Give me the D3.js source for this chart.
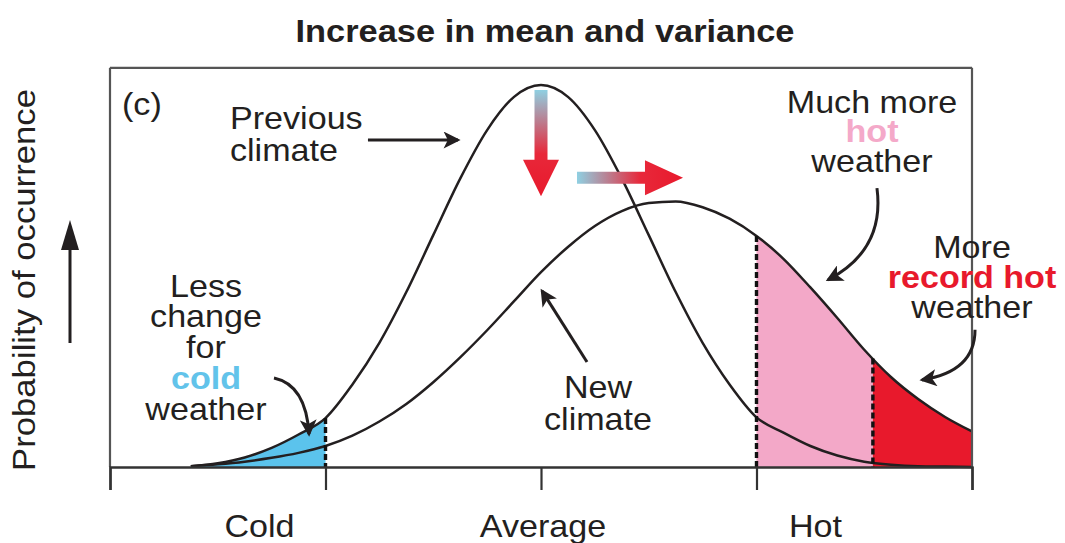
<!DOCTYPE html>
<html>
<head>
<meta charset="utf-8">
<script src="https://cdn.jsdelivr.net/npm/d3@7"></script>
<style>
  html, body { margin: 0; padding: 0; background: #ffffff; }
  svg { display: block; }
  text { font-family: "Liberation Sans", Arial, Helvetica, sans-serif; }
</style>
</head>
<body>
<script>
// ---------------- DATA ----------------
// temperature axis in standardized units (Cold = -2, Average = 0, Hot = 2)
const climateX = [-3.25, -3, -2.75, -2.5, -2.25, -2, -1.75, -1.5, -1.25, -1, -0.75, -0.5, -0.25,
                  0, 0.25, 0.5, 0.75, 1, 1.25, 1.5, 1.75, 2, 2.25, 2.5, 2.75, 3, 3.25, 3.5, 3.75, 4];
// probability of occurrence (relative to previous peak)
const previousClimate = [0.002, 0.01, 0.025, 0.05, 0.085, 0.128, 0.216, 0.325, 0.458, 0.607, 0.755, 0.882, 0.969,
                         1.0, 0.969, 0.882, 0.755, 0.607, 0.458, 0.325, 0.216, 0.13, 0.09, 0.055, 0.03, 0.014, 0.006, 0.002, 0.001, 0.0];
const newClimate = [0.002, 0.007, 0.014, 0.024, 0.037, 0.055, 0.082, 0.119, 0.165, 0.222, 0.287, 0.358, 0.434,
                    0.51, 0.576, 0.631, 0.67, 0.691, 0.695, 0.68, 0.65, 0.605, 0.545, 0.47, 0.39, 0.307, 0.235, 0.178, 0.131, 0.093];
const tickValues = [-4, -2, 0, 2, 4];
const tickLabelValues = [-2, 0, 2];
const tickLabels = ["Cold", "Average", "Hot"];
const coldThreshold = -2;
const hotThreshold = 2;
const recordThreshold = 3.08;
const titleText = "Increase in mean and variance";
const yAxisTitle = "Probability of occurrence";

// ---------------- LAYOUT ----------------
const W = 1065, H = 543;
const x = d3.scaleLinear().domain([-4, 4]).range([110, 972]);
const y = d3.scaleLinear().domain([0, 1]).range([467, 85]);
const yTop = 1.045;

const ink = "#231f20";
const blueFill = "#5bc3ec";
const pinkFill = "#f3a8c8";
const redFill = "#e8192c";
const coldText = "#62c3ea";
const hotText = "#f4a9c9";

const svg = d3.select("body").append("svg").attr("width", W).attr("height", H);
const defs = svg.append("defs");

const prevPts = climateX.map((u, i) => [u, previousClimate[i]]);
const newPts = climateX.map((u, i) => [u, newClimate[i]]);

function valueAt(pts, t) {
  for (let i = 0; i < pts.length - 1; i++) {
    if (t >= pts[i][0] && t <= pts[i + 1][0]) {
      const f = (t - pts[i][0]) / (pts[i + 1][0] - pts[i][0]);
      return pts[i][1] + f * (pts[i + 1][1] - pts[i][1]);
    }
  }
  return 0;
}

const area = d3.area().x(d => x(d[0])).y0(y(0)).y1(d => y(d[1])).curve(d3.curveMonotoneX);
const line = d3.line().x(d => x(d[0])).y(d => y(d[1])).curve(d3.curveMonotoneX);

// clip paths for shaded tails
function clipRect(id, u0, u1) {
  defs.append("clipPath").attr("id", id).append("rect")
    .attr("x", x(u0)).attr("y", 0).attr("width", x(u1) - x(u0)).attr("height", H);
}
clipRect("clipCold", -4, coldThreshold);
clipRect("clipHot", hotThreshold, recordThreshold);
clipRect("clipRecord", recordThreshold, 4);

// ---------------- FILLS ----------------
svg.append("path").datum(prevPts).attr("d", area).attr("fill", blueFill).attr("clip-path", "url(#clipCold)");
svg.append("path").datum(newPts).attr("d", area).attr("fill", pinkFill).attr("clip-path", "url(#clipHot)");
svg.append("path").datum(newPts).attr("d", area).attr("fill", redFill).attr("clip-path", "url(#clipRecord)");

// ---------------- CURVES ----------------
svg.append("path").datum(prevPts).attr("d", line).attr("fill", "none").attr("stroke", ink).attr("stroke-width", 2.5);
svg.append("path").datum(newPts).attr("d", line).attr("fill", "none").attr("stroke", ink).attr("stroke-width", 2.5);

// dashed threshold lines
[[prevPts, coldThreshold], [newPts, hotThreshold], [newPts, recordThreshold]].forEach(([pts, t]) => {
  svg.append("line")
    .attr("x1", x(t)).attr("x2", x(t))
    .attr("y1", y(valueAt(pts, t))).attr("y2", y(0))
    .attr("stroke", "#111").attr("stroke-width", 3.4).attr("stroke-dasharray", "6,3");
});

// ---------------- FRAME & AXIS ----------------
const frame = "#555555";
svg.append("line").attr("x1", x(-4)).attr("x2", x(4)).attr("y1", y(yTop)).attr("y2", y(yTop))
  .attr("stroke", frame).attr("stroke-width", 2.2);
svg.append("line").attr("x1", x(-4)).attr("x2", x(-4)).attr("y1", y(yTop)).attr("y2", y(0))
  .attr("stroke", frame).attr("stroke-width", 2.2);
svg.append("line").attr("x1", x(4)).attr("x2", x(4)).attr("y1", y(yTop)).attr("y2", y(0))
  .attr("stroke", frame).attr("stroke-width", 2.2);

const axisG = svg.append("g").attr("transform", `translate(0,${y(0)})`)
  .call(d3.axisBottom(x).tickValues(tickValues).tickSize(23).tickFormat(""));
axisG.select(".domain").attr("stroke", "#333").attr("stroke-width", 2.4);
axisG.selectAll(".tick line").attr("stroke", "#333").attr("stroke-width", 2.2);

const tickLabelShift = [-66, 2, 59];
tickLabels.forEach((lab, i) => {
  svg.append("text")
    .attr("transform", `translate(${x(tickLabelValues[i]) + tickLabelShift[i]},537) scale(1.1,1)`)
    .attr("text-anchor", "middle").attr("font-size", 31).attr("fill", ink).text(lab);
});

// ---------------- TEXT HELPERS ----------------
function label(px, py, str, opts = {}) {
  const t = svg.append("text")
    .attr("transform", `translate(${px},${py}) rotate(${opts.rotate || 0}) scale(${opts.sx || 1.1},1)`)
    .attr("text-anchor", opts.anchor || "middle")
    .attr("font-size", opts.size || 31)
    .attr("font-weight", opts.weight || "normal")
    .attr("fill", opts.fill || ink)
    .text(str);
  return t;
}

// title
label(545, 42, titleText, { weight: "bold", size: 31, sx: 1.11 });
// y axis title
label(35, 280, yAxisTitle, { rotate: -90, size: 31, sx: 1.12 });
// panel letter
label(122, 115, "(c)", { anchor: "start" });

// annotations
label(230, 129, "Previous", { anchor: "start" });
label(230, 161, "climate", { anchor: "start" });

label(872, 113, "Much more");
label(872, 142, "hot", { weight: "bold", fill: hotText });
label(872, 172, "weather");

label(972, 258, "More");
label(972, 288, "record hot", { weight: "bold", fill: redFill });
label(972, 318, "weather");

label(206, 297, "Less");
label(206, 327, "change");
label(206, 358, "for");
label(206, 389, "cold", { weight: "bold", fill: coldText });
label(206, 420, "weather");

label(598, 398, "New");
label(598, 430, "climate");

// ---------------- ARROWS ----------------
defs.append("marker").attr("id", "head")
  .attr("viewBox", "0 0 10 10").attr("refX", 8.5).attr("refY", 5)
  .attr("markerWidth", 21).attr("markerHeight", 17).attr("markerUnits", "userSpaceOnUse")
  .attr("orient", "auto")
  .append("path").attr("d", "M0,0 L10,5 L0,10 L2.5,5 Z").attr("fill", ink);

const P = (u, v) => [x(u), y(v)];
function arrowPath(pts) {
  const p = d3.path();
  const a = P(...pts[0]);
  p.moveTo(a[0], a[1]);
  if (pts.length === 2) {
    const b = P(...pts[1]);
    p.lineTo(b[0], b[1]);
  } else {
    const c = P(...pts[1]), b = P(...pts[2]);
    p.quadraticCurveTo(c[0], c[1], b[0], b[1]);
  }
  svg.append("path").attr("d", p.toString()).attr("fill", "none")
    .attr("stroke", ink).attr("stroke-width", 3).attr("marker-end", "url(#head)");
}
arrowPath([[-1.606, 0.856], [-0.77, 0.856]]);                 // previous climate
arrowPath([[0.427, 0.275], [0.009, 0.461]]);                  // new climate
arrowPath([[3.118, 0.73], [3.193, 0.568], [2.664, 0.49]]);    // much more hot
arrowPath([[4.028, 0.359], [4.028, 0.249], [3.536, 0.228]]);  // record hot
arrowPath([[-2.478, 0.233], [-2.181, 0.215], [-2.153, 0.086]]); // cold

// gradient arrows (shift in mean & change in variance)
const gV = defs.append("linearGradient").attr("id", "gradV").attr("x1", 0).attr("y1", 0).attr("x2", 0).attr("y2", 1);
gV.append("stop").attr("offset", 0).attr("stop-color", "#8fd0e2");
gV.append("stop").attr("offset", 0.6).attr("stop-color", "#e8283a");
gV.append("stop").attr("offset", 1).attr("stop-color", "#e8192c");
const gH = defs.append("linearGradient").attr("id", "gradH").attr("x1", 0).attr("y1", 0).attr("x2", 1).attr("y2", 0);
gH.append("stop").attr("offset", 0).attr("stop-color", "#8fd0e2");
gH.append("stop").attr("offset", 0.6).attr("stop-color", "#e8283a");
gH.append("stop").attr("offset", 1).attr("stop-color", "#e8192c");

{
  const cx = x(0), top = y(0.987), base = y(0.804), tip = y(0.709);
  const pts = [[cx - 6.5, top], [cx + 6.5, top], [cx + 6.5, base], [cx + 18, base], [cx, tip], [cx - 18, base], [cx - 6.5, base]];
  svg.append("polygon").attr("points", pts.map(p => p.join(",")).join(" ")).attr("fill", "url(#gradV)");
}
{
  const cy = y(0.757), left = x(0.334), base = x(0.965), tip = x(1.318);
  const pts = [[left, cy - 6], [base, cy - 6], [base, cy - 17.5], [tip, cy], [base, cy + 17.5], [base, cy + 6], [left, cy + 6]];
  svg.append("polygon").attr("points", pts.map(p => p.join(",")).join(" ")).attr("fill", "url(#gradH)");
}

// y-axis direction arrow
svg.append("line").attr("x1", 70).attr("x2", 70).attr("y1", 343).attr("y2", 245)
  .attr("stroke", ink).attr("stroke-width", 3);
svg.append("polygon").attr("points", "61,250 79,250 70,220").attr("fill", ink);
</script>
</body>
</html>
